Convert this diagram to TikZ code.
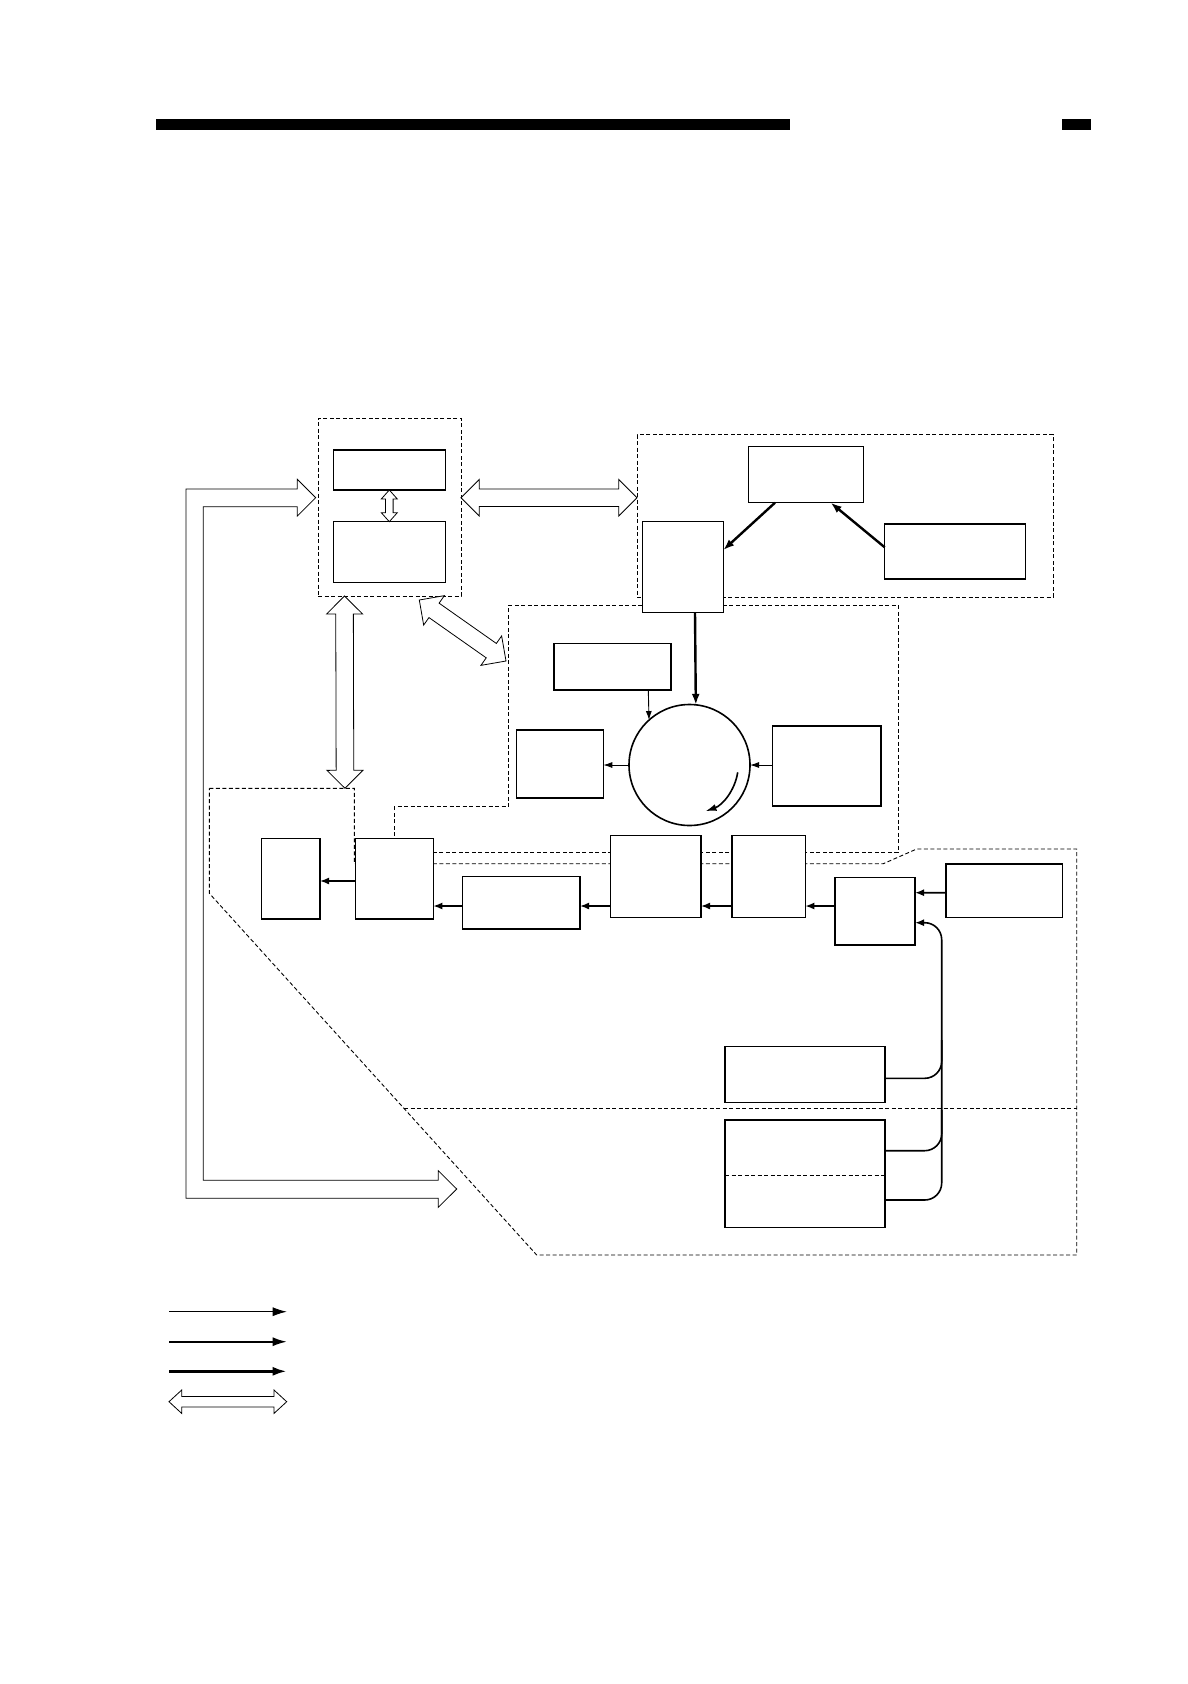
\documentclass[tikz,border=0pt]{standalone}
\usetikzlibrary{calc,arrows.meta}
\newcommand{\blockdbl}[5]{%
  \coordinate (tmpA) at ($(#1)!#5!(#2)$);
  \coordinate (tmpB) at ($(#2)!#5!(#1)$);
  \draw[blockarrow] (#1) -- ($(tmpA)!#4!90:(#2)$) -- ($(tmpA)!#3!90:(#2)$)
    -- ($(tmpB)!#3!-90:(#1)$) -- ($(tmpB)!#4!-90:(#1)$) -- (#2)
    -- ($(tmpB)!#4!90:(#1)$) -- ($(tmpB)!#3!90:(#1)$)
    -- ($(tmpA)!#3!-90:(#2)$) -- ($(tmpA)!#4!-90:(#2)$) -- cycle;}
\begin{document}
\begin{tikzpicture}[x=1pt,y=-1pt,
  boxnode/.style={draw, fill=white, line width=1.5pt, inner sep=0pt, outer sep=0pt},
  grpline/.style={draw, line width=0.9pt, dash pattern=on 4pt off 2.5pt},
  grpnode/.style={grpline, inner sep=0pt, outer sep=0pt},
  thinarrow/.style={line width=0.9pt, -{Latex[length=9pt,width=6pt]}},
  medarrow/.style={line width=1.6pt, -{Latex[length=9pt,width=7pt]}},
  thickarrow/.style={line width=2.4pt, -{Latex[length=11pt,width=8pt]}},
  trunkline/.style={line width=1.6pt},
  blockarrow/.style={draw, fill=white, line width=0.8pt, line join=miter}]

\fill[white] (0,0) rectangle (1188,1684);
\useasboundingbox (0,0) rectangle (1188,1684);

% header bars
\fill (155.7,119.2) rectangle (789.5,130);
\fill (1062.3,119.2) rectangle (1091.3,130);

% dashed groups
\node[grpnode, minimum width=143pt, minimum height=178pt] (grpA) at (389.5,507) {};
\node[grpnode, minimum width=416pt, minimum height=162.5pt] (grpB) at (845,515.75) {};
\draw[grpline] (508.3,605) -- (898,605) -- (898,852.3) -- (394.3,852.3) -- (394.3,806.7) -- (508.3,806.7) -- cycle;
\draw[grpline] (209.3,788.3) -- (354.3,788.3) -- (354.3,863.7) -- (883.3,863.7) -- (916.7,849)
  -- (1076.7,849) -- (1076.7,1255) -- (536.7,1255) -- (209.3,893.3) -- cycle;
\draw[grpline] (404,1108.3) -- (1076.7,1108.3);

% L-shaped block arrow
\draw[blockarrow] (315.7,497.7) -- (297.3,479.3) -- (297.3,489) -- (186,489) -- (186,1198.3)
  -- (438.3,1198.3) -- (438.3,1207.3) -- (456.7,1189) -- (438.3,1170.7) -- (438.3,1180.3)
  -- (203.3,1180.3) -- (203.3,506.7) -- (297.3,506.7) -- (297.3,516) -- cycle;

% boxes
\node[boxnode, minimum width=112pt, minimum height=40pt] (A1) at (389.3,470) {};
\node[boxnode, minimum width=112pt, minimum height=61pt] (A2) at (389.3,552.2) {};
\node[boxnode, minimum width=114.6pt, minimum height=56pt] (B1) at (806,474.7) {};
\node[boxnode, minimum width=80.6pt, minimum height=90.6pt] (B2) at (683,567) {};
\node[boxnode, minimum width=140.6pt, minimum height=55pt] (B3) at (955,551.5) {};
\node[boxnode, minimum width=117pt, minimum height=46.3pt] (C1) at (612.5,666.85) {};
\node[boxnode, minimum width=86.6pt, minimum height=68pt] (C2) at (560,764) {};
\node[boxnode, minimum width=108.3pt, minimum height=80pt] (C3) at (826.85,766) {};
\node[draw, circle, fill=white, line width=1.6pt, inner sep=0pt, outer sep=0pt, minimum size=121pt] (drum) at (689.5,765) {};
\node[boxnode, minimum width=58.3pt, minimum height=80.3pt] (D1) at (290.85,878.85) {};
\node[boxnode, minimum width=77.6pt, minimum height=80.3pt] (D2) at (394.5,878.85) {};
\node[boxnode, minimum width=117.3pt, minimum height=52.3pt] (D3) at (521.35,902.85) {};
\node[boxnode, minimum width=90.3pt, minimum height=82pt] (D4) at (655.85,876.7) {};
\node[boxnode, minimum width=73.3pt, minimum height=82pt] (D5) at (768.65,876.7) {};
\node[boxnode, minimum width=80pt, minimum height=67.7pt] (D6) at (875,911.15) {};
\node[boxnode, minimum width=116.3pt, minimum height=53.7pt] (D7) at (1004.15,890.85) {};
\node[boxnode, minimum width=160pt, minimum height=56pt] (F1) at (805,1074.7) {};
\node[boxnode, minimum width=160pt, minimum height=107.7pt] (F2) at (805,1173.85) {};
\draw[grpline] ([yshift=-1.45pt]F2.west) -- ([yshift=-1.45pt]F2.east);

% block double arrows
\blockdbl{A1.south}{A2.north}{3.8pt}{8pt}{9pt}
\coordinate (abS) at ([yshift=9.3pt]grpA.east);
\coordinate (abE) at ([yshift=18pt]grpB.west);
\blockdbl{abS}{abE}{8.8pt}{18.3pt}{18.3pt}
\coordinate (adS) at ([xshift=-45pt]grpA.south);
\coordinate (adE) at (345,788.3);
\blockdbl{adS}{adE}{8.8pt}{18pt}{18pt}
\coordinate (acS) at (419.3,600);
\coordinate (acE) at (506,661);
\blockdbl{acS}{acE}{8.8pt}{18pt}{18pt}

% top group arrows
\draw[thickarrow] ([xshift=-31pt]B1.south) -- ([yshift=17pt]B2.east);
\draw[thickarrow] ([yshift=4.2pt]B3.west) -- ([xshift=24.7pt]B1.south);
\draw[thickarrow] ([xshift=12pt]B2.south) -- (drum.84.8);

% drum arrows
\draw[thinarrow] ([xshift=35.8pt]C1.south) -- (drum.132.9);
\draw[thinarrow] (drum.west) -- (C2.east |- drum.west);
\draw[thinarrow] (C3.west |- drum.east) -- (drum.east);
\draw[line width=1.6pt, -{Latex[length=11pt,width=7pt]}] ($(drum.center)+(48.2,7.3)$)
  arc[start angle=-8.6, end angle=-70.7, radius=49pt];

% bottom row arrows
\coordinate (row) at (0,906);
\draw[medarrow] ([yshift=-1.85pt]D7.west) -- ([yshift=18.45pt]D6.east);
\draw[medarrow] (D6.west |- row) -- (D5.east |- row);
\draw[medarrow] (D5.west |- row) -- (D4.east |- row);
\draw[medarrow] (D4.west |- row) -- (D3.east |- row);
\draw[medarrow] (D3.west |- row) -- (D2.east |- row);
\draw[medarrow] ([yshift=-2.15pt]D2.west) -- ([yshift=-2.15pt]D1.east);

% trunk from F1/F2 to D6
\coordinate (trunk) at (941.7,922.7);
\coordinate (br1) at (941.7,1040);
\coordinate (br2) at (941.7,1110);
\draw[medarrow, rounded corners=17pt] ([yshift=-26.15pt]F2.east) -| (trunk) -- ([yshift=-11.55pt]D6.east);
\draw[trunkline, rounded corners=17pt] ([yshift=-3.6pt]F1.east) -| (br1);
\draw[trunkline, rounded corners=17pt] ([yshift=23.15pt]F2.east) -| (br2);

% legend
\coordinate (lg1a) at (169,1311.7); \coordinate (lg1b) at (286.7,1311.7);
\coordinate (lg2a) at (169,1341.7); \coordinate (lg2b) at (286.7,1341.7);
\coordinate (lg3a) at (169,1371.3); \coordinate (lg3b) at (286.7,1371.3);
\coordinate (lg4a) at (169,1401.7); \coordinate (lg4b) at (286.7,1401.7);
\draw[line width=0.9pt, -{Latex[length=14pt,width=9pt]}] (lg1a) -- (lg1b);
\draw[line width=1.6pt, -{Latex[length=14pt,width=9pt]}] (lg2a) -- (lg2b);
\draw[line width=2.6pt, -{Latex[length=14pt,width=9pt]}] (lg3a) -- (lg3b);
\blockdbl{lg4a}{lg4b}{5.3pt}{11.7pt}{12.7pt}
\end{tikzpicture}
\end{document}
